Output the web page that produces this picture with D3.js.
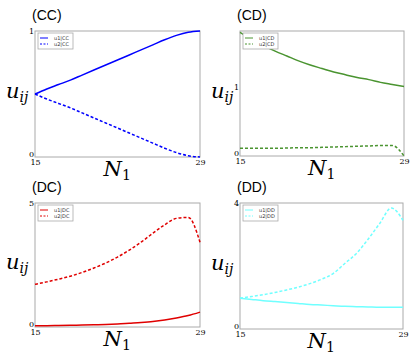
<!DOCTYPE html>
<html>
<head>
<meta charset="utf-8">
<script src="https://cdn.jsdelivr.net/npm/d3@7"></script>
<style>
body { margin: 0; background: #fff; }
svg { display: block; }
.axis path, .axis line { display: none; }
.axis text { font-family: "DejaVu Serif", serif; font-size: 8px; fill: #000; }
</style>
</head>
<body>
<svg id="chart" width="415" height="359"></svg>
<script>
// N1 values on the x axis
var nValues = [15, 16, 17, 18, 19, 20, 21, 22, 23, 24, 25, 26, 27, 28, 29];
var xTicks = [15, 29];

// series, one per line
var u1CC = [0.50, 0.54, 0.575, 0.61, 0.65, 0.69, 0.73, 0.77, 0.81, 0.85, 0.89, 0.93, 0.965, 0.99, 1.0];
var u2CC = [0.50, 0.46, 0.425, 0.39, 0.35, 0.31, 0.27, 0.23, 0.19, 0.15, 0.11, 0.07, 0.035, 0.01, 0.0];
var u1CD = [1.78, 1.68, 1.59, 1.51, 1.44, 1.37, 1.31, 1.26, 1.21, 1.17, 1.13, 1.10, 1.06, 1.03, 1.0];
var u2CD = [0.11, 0.11, 0.11, 0.11, 0.115, 0.12, 0.12, 0.125, 0.13, 0.135, 0.14, 0.145, 0.15, 0.15, 0.0];
var u1DC = [0.05, 0.05, 0.06, 0.07, 0.08, 0.09, 0.10, 0.12, 0.15, 0.18, 0.22, 0.28, 0.36, 0.46, 0.60];
var u2DC = [1.72, 1.82, 1.93, 2.05, 2.20, 2.38, 2.58, 2.82, 3.10, 3.42, 3.78, 4.12, 4.38, 4.42, 3.42];
var u1DD = [0.98, 0.94, 0.90, 0.87, 0.84, 0.81, 0.78, 0.76, 0.74, 0.72, 0.71, 0.70, 0.69, 0.69, 0.69];
var u2DD = [0.98, 1.03, 1.09, 1.16, 1.24, 1.33, 1.44, 1.58, 1.76, 2.08, 2.40, 2.85, 3.35, 3.84, 3.45];

// panel settings
var panels = [
    {name: "CC", color: "#0000ff", ymax: 1,   yTicks: [0, 1], s1: u1CC, s2: u2CC, x: 35,  y: 31,  w: 165, h: 126},
    {name: "CD", color: "#4a9430", ymax: 1.8, yTicks: [0, 1], s1: u1CD, s2: u2CD, x: 240, y: 31,  w: 164, h: 125},
    {name: "DC", color: "#e00000", ymax: 5,   yTicks: [0, 5], s1: u1DC, s2: u2DC, x: 35,  y: 203, w: 165, h: 124},
    {name: "DD", color: "#70ffff", ymax: 4,   yTicks: [0, 4], s1: u1DD, s2: u2DD, x: 240, y: 203, w: 163, h: 126}
];

var svg = d3.select("#chart");

panels.forEach(function(p) {
    var g = svg.append("g").attr("transform", "translate(" + p.x + "," + p.y + ")");

    var xScale = d3.scaleLinear().domain([15, 29]).range([0, p.w]);
    var yScale = d3.scaleLinear().domain([0, p.ymax]).range([p.h, 0]);

    // frame
    g.append("rect")
        .attr("width", p.w)
        .attr("height", p.h)
        .attr("fill", "none")
        .attr("stroke", "#aaa")
        .attr("stroke-width", 1);

    // axes (labels only)
    var gy = g.append("g")
        .attr("class", "axis")
        .call(d3.axisLeft(yScale).tickValues(p.yTicks).tickSize(0).tickPadding(1).tickFormat(d3.format("d")));
    // lift the 0 label so it sits above the 15
    gy.selectAll(".tick text").filter(function(d) { return d === 0; }).attr("dy", "-0.1em");

    g.append("g")
        .attr("class", "axis")
        .attr("transform", "translate(0," + p.h + ")")
        .call(d3.axisBottom(xScale).tickValues(xTicks).tickSize(0).tickPadding(2));

    var line = d3.line()
        .x(function(d, i) { return xScale(nValues[i]); })
        .y(function(d) { return yScale(d); })
        .curve(d3.curveMonotoneX);

    g.append("path")
        .datum(p.s1)
        .attr("d", line)
        .attr("fill", "none")
        .attr("stroke", p.color)
        .attr("stroke-width", 1.5);

    g.append("path")
        .datum(p.s2)
        .attr("d", line)
        .attr("fill", "none")
        .attr("stroke", p.color)
        .attr("stroke-width", 1.5)
        .attr("stroke-dasharray", "3,2");

    // panel title
    svg.append("text")
        .attr("x", p.x - 3)
        .attr("y", p.y - 11)
        .style("font-family", "'Liberation Sans', Arial, sans-serif")
        .style("font-size", "14px")
        .text("(" + p.name + ")");

    // y label
    var yl = svg.append("text")
        .attr("x", p.x - 29)
        .attr("y", p.y + p.h / 2 + 4)
        .style("font-family", "'DejaVu Serif', serif")
        .style("font-style", "italic")
        .style("font-size", "21px");
    yl.append("tspan").text("u");
    yl.append("tspan").attr("dy", 4).style("font-size", "14px").text("ij");

    // x label
    var xl = svg.append("text")
        .attr("x", p.x + p.w / 2 - 14)
        .attr("y", p.y + p.h + 19)
        .style("font-family", "'DejaVu Serif', serif")
        .style("font-style", "italic")
        .style("font-size", "21px");
    xl.append("tspan").text("N");
    xl.append("tspan").attr("dy", 4).style("font-style", "normal").style("font-size", "14px").text("1");

    // legend
    var leg = g.append("g").attr("transform", "translate(3,2)");
    leg.append("rect")
        .attr("width", 35)
        .attr("height", 16)
        .attr("fill", "#fff")
        .attr("stroke", "#aaa")
        .attr("stroke-width", 0.8);
    [1, 2].forEach(function(k, i) {
        var yy = 5 + i * 6;
        leg.append("line")
            .attr("x1", 2).attr("x2", 10)
            .attr("y1", yy).attr("y2", yy)
            .attr("stroke", p.color)
            .attr("stroke-width", 1)
            .attr("stroke-dasharray", k === 2 ? "2,1.5" : null);
        leg.append("text")
            .attr("x", 16)
            .attr("y", yy + 2)
            .style("font-family", "'DejaVu Sans', sans-serif")
            .style("font-size", "5px")
            .style("fill", "#333")
            .text("u" + k + "|" + p.name);
    });
});
</script>
</body>
</html>
